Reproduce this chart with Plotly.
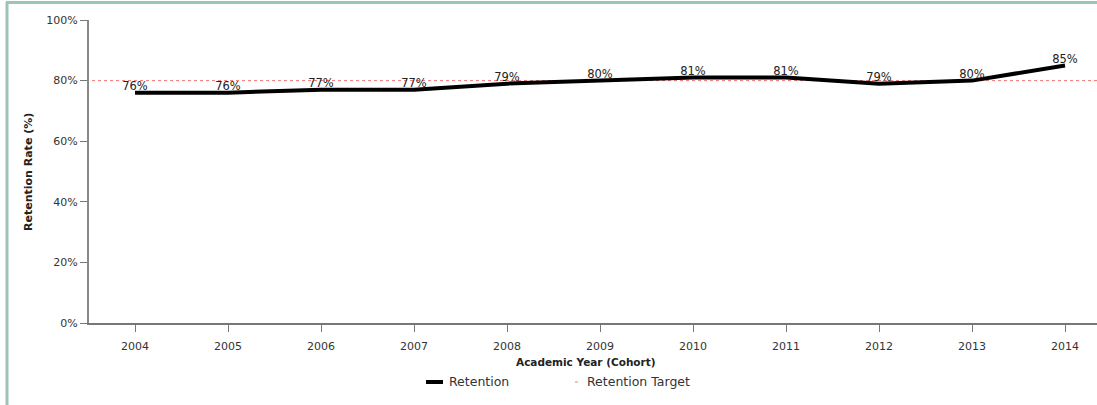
import plotly.graph_objects as go

years = [2004, 2005, 2006, 2007, 2008, 2009, 2010, 2011, 2012, 2013, 2014]
retention = [76, 76, 77, 77, 79, 80, 81, 81, 79, 80, 85]
labels = ["76%", "76%", "77%", "77%", "79%", "80%", "81%", "81%", "79%", "80%", "85%"]
target = 80
y_ticks = [0, 20, 40, 60, 80, 100]
y_tick_labels = ["0%", "20%", "40%", "60%", "80%", "100%"]

FONT = "DejaVu Sans, Verdana, sans-serif"
L, R, T, B = 89, 0, 20, 82
W, H = 1097, 405
PW, PH = W - L - R, H - T - B

def px(x):
    return (x - L) / PW

def py(y):
    return (H - B - y) / PH

fig = go.Figure()
fig.add_trace(go.Scatter(
    x=years, y=retention, mode="lines+text", text=labels,
    textposition="top center", textfont=dict(family=FONT, size=11.5, color="#222"),
    line=dict(color="black", width=4), name="Retention", showlegend=False,
    cliponaxis=False,
))

shapes = [
    # retention target line
    dict(type="line", xref="paper", yref="y", x0=0.003, x1=1, y0=target, y1=target,
         line=dict(color="#f07878", width=1, dash="dot"), layer="below"),
    # frame
    dict(type="line", xref="paper", yref="paper", x0=px(7), x1=px(7), y0=py(2), y1=py(405),
         line=dict(color="#9cc4b8", width=3)),
    dict(type="line", xref="paper", yref="paper", x0=px(6), x1=px(1097), y0=py(2.5), y1=py(2.5),
         line=dict(color="#9cc4b8", width=3)),
    # legend samples
    dict(type="line", xref="paper", yref="paper", x0=px(426), x1=px(443), y0=py(382), y1=py(382),
         line=dict(color="black", width=4)),
    dict(type="line", xref="paper", yref="paper", x0=px(575), x1=px(581), y0=py(382), y1=py(382),
         line=dict(color="#f07878", width=1, dash="dot")),
]

annotations = [
    dict(text="Retention", xref="paper", yref="paper", x=px(447), y=py(381), xanchor="left",
         yanchor="middle", showarrow=False, font=dict(family=FONT, size=12.5, color="#333")),
    dict(text="Retention Target", xref="paper", yref="paper", x=px(585), y=py(381), xanchor="left",
         yanchor="middle", showarrow=False, font=dict(family=FONT, size=12.5, color="#333")),
    dict(text="<b>Academic Year (Cohort)</b>", xref="paper", yref="paper", x=px(586), y=py(362),
         xanchor="center", yanchor="middle", showarrow=False, font=dict(family=FONT, size=10.5, color="#222")),
    dict(text="<b>Retention Rate (%)</b>", xref="paper", yref="paper", x=px(28), y=py(172),
         xanchor="center", yanchor="middle", textangle=-90, showarrow=False,
         font=dict(family=FONT, size=11, color="#222")),
]

fig.update_layout(
    width=W, height=H,
    margin=dict(l=L, r=R, t=T, b=B),
    paper_bgcolor="white", plot_bgcolor="white",
    shapes=shapes, annotations=annotations, showlegend=False,
    xaxis=dict(range=[2003.505, 2014.344], tickmode="array", tickvals=years,
               ticktext=[str(y) for y in years], showgrid=False, zeroline=False,
               showline=True, linecolor="#777", linewidth=2, ticks="outside", ticklen=7,
               ticklabelstandoff=5,
               tickcolor="#777", tickwidth=1, tickfont=dict(family=FONT, size=11, color="#333")),
    yaxis=dict(range=[0, 100], tickmode="array", tickvals=y_ticks, ticktext=y_tick_labels,
               showgrid=False, zeroline=False, showline=True, linecolor="#888", linewidth=2,
               ticks="outside", ticklen=7, tickcolor="#777", tickwidth=1,
               tickfont=dict(family=FONT, size=11, color="#333")),
)

fig.write_html("out.html")
